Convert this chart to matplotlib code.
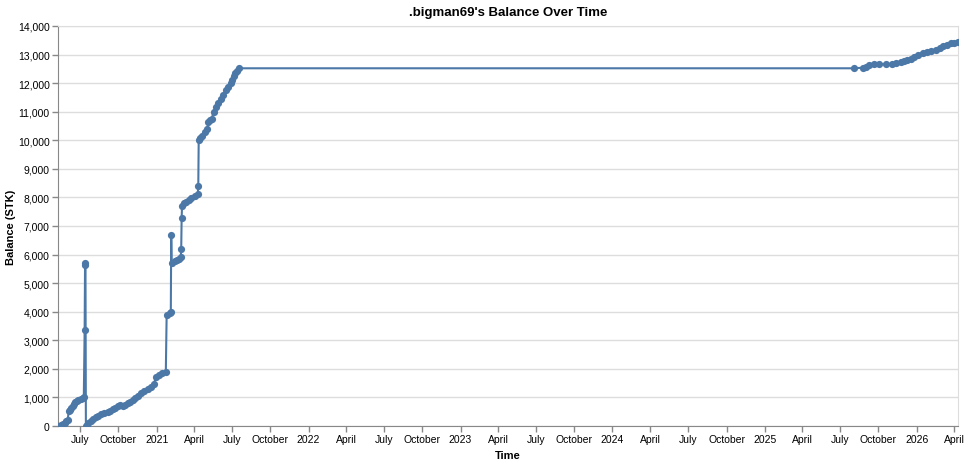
import matplotlib
matplotlib.use("Agg")
import matplotlib.pyplot as plt
import matplotlib.dates as mdates
from matplotlib.ticker import FuncFormatter, MultipleLocator
import pandas as pd

# balance history
dates = [
    "2020-05-09", "2020-05-16", "2020-05-20", "2020-05-25", "2020-05-29", "2020-06-01",
    "2020-06-04", "2020-06-07", "2020-06-09", "2020-06-13", "2020-06-16", "2020-06-20",
    "2020-06-23", "2020-06-27", "2020-07-03", "2020-07-07", "2020-07-10", "2020-07-12",
    "2020-07-13", "2020-07-14", "2020-07-15", "2020-07-17", "2020-07-21", "2020-07-27",
    "2020-08-01", "2020-08-08", "2020-08-14", "2020-08-20", "2020-08-28", "2020-09-05",
    "2020-09-11", "2020-09-17", "2020-09-23", "2020-09-29", "2020-10-05", "2020-10-11",
    "2020-10-17", "2020-10-23", "2020-10-29", "2020-11-04", "2020-11-10", "2020-11-16",
    "2020-11-24", "2020-12-02", "2020-12-10", "2020-12-18", "2020-12-25", "2020-12-30",
    "2021-01-06", "2021-01-14", "2021-01-23", "2021-01-25", "2021-02-01", "2021-02-04",
    "2021-02-05", "2021-02-06", "2021-02-13", "2021-02-18", "2021-02-23", "2021-02-28",
    "2021-03-01", "2021-03-02", "2021-03-03", "2021-03-08", "2021-03-13", "2021-03-19",
    "2021-03-25", "2021-04-02", "2021-04-10", "2021-04-11", "2021-04-12", "2021-04-16",
    "2021-04-21", "2021-04-27", "2021-05-03", "2021-05-05", "2021-05-09", "2021-05-13",
    "2021-05-18", "2021-05-23", "2021-05-28", "2021-06-04", "2021-06-10", "2021-06-16",
    "2021-06-22", "2021-06-28", "2021-07-02", "2021-07-05", "2021-07-09", "2021-07-12",
    "2021-07-18", "2025-08-02", "2025-08-25", "2025-08-31", "2025-09-09",
    "2025-09-20", "2025-10-03", "2025-10-18", "2025-11-03", "2025-11-12", "2025-11-23",
    "2025-12-01", "2025-12-09", "2025-12-17", "2025-12-25", "2026-01-05", "2026-01-15",
    "2026-01-26", "2026-02-05", "2026-02-15", "2026-02-25", "2026-03-06", "2026-03-14",
    "2026-03-23", "2026-04-01", "2026-04-10",
]
balance = [
    0, 40, 80, 120, 160, 200,
    520, 570, 620, 700, 780, 830,
    870, 910, 950, 980, 1000, 3350,
    5700, 5650, 0, 50, 110, 170,
    230, 300, 360, 410, 450, 490,
    530, 580, 640, 700, 720, 710,
    740, 790, 840, 900, 970, 1050,
    1140, 1220, 1300, 1380, 1460, 1700,
    1800, 1840, 1880, 3900, 3960, 4000,
    6700, 5700, 5780, 5820, 5850, 5900,
    6200, 7270, 7710, 7790, 7850, 7920,
    7980, 8050, 8120, 8400, 10000, 10080,
    10150, 10280, 10400, 10650, 10700, 10750,
    11000, 11150, 11300, 11450, 11600, 11750,
    11880, 12000, 12120, 12260, 12340, 12420,
    12520, 12520, 12540, 12560, 12650,
    12655, 12660, 12665, 12670, 12700, 12730,
    12770, 12810, 12845, 12920, 12995, 13040,
    13080, 13120, 13160, 13240, 13310, 13350,
    13390, 13410, 13430,
]

color = "#4c78a8"
grid = "#dddddd"
axis = "#888888"

plt.rcParams["font.family"] = ["Liberation Sans", "DejaVu Sans"]

x = pd.to_datetime(dates)

fig = plt.figure(figsize=(9.69, 4.64), dpi=100)
ax = fig.add_axes([58 / 969, 37 / 464, 900 / 969, 400 / 464])

ax.plot(x, balance, color=color, linewidth=1.5, marker="o", markersize=5.2,
        markeredgewidth=0, zorder=3)

ax.set_xlim(x[0], x[-1])
ax.set_ylim(0, 14000)

# y axis
ax.yaxis.set_major_locator(MultipleLocator(1000))
ax.yaxis.set_major_formatter(FuncFormatter(lambda v, p: f"{int(v):,}"))

# x axis: quarterly ticks, year shown at january
ax.xaxis.set_major_locator(mdates.MonthLocator(bymonth=[1, 4, 7, 10]))


def fmt_date(v, p):
    d = mdates.num2date(v)
    if d.month == 1:
        return str(d.year)
    return d.strftime("%B")


ax.xaxis.set_major_formatter(FuncFormatter(fmt_date))

ax.grid(True, axis="y", color=grid, linewidth=1)
ax.set_axisbelow(True)
for side in ["top", "right"]:
    ax.spines[side].set_color(grid)
for side in ["left", "bottom"]:
    ax.spines[side].set_color(axis)
ax.tick_params(axis="both", colors=axis, length=4, width=1, labelsize=7.5,
               labelcolor="#000000", pad=2)

ax.set_xlabel("Time", fontsize=8, fontweight="bold", labelpad=4)
ax.set_ylabel("Balance (STK)", fontsize=8, fontweight="bold")
ax.yaxis.set_label_coords(-42 / 900, 0.5)
ax.set_title(".bigman69's Balance Over Time", fontsize=9.5, fontweight="bold", pad=8)

fig.savefig("out.png", dpi=100)
